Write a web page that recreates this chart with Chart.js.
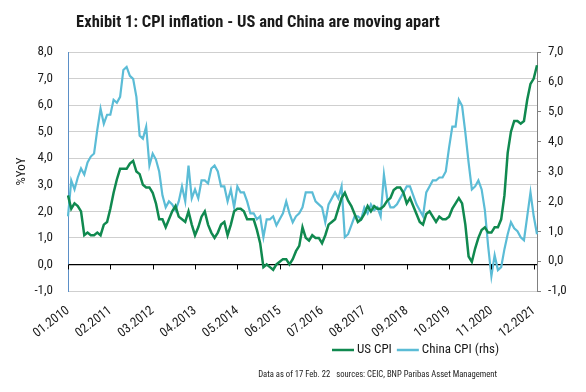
<!DOCTYPE html>
<html>
<head>
<meta charset="utf-8">
<script src="https://cdn.jsdelivr.net/npm/chart.js@4/dist/chart.umd.min.js"></script>
<style>
  html, body { margin: 0; padding: 0; background: #fff; }
  #wrap { width: 586px; height: 392px; position: relative; }
</style>
</head>
<body>
<div id="wrap"><canvas id="chart" width="586" height="392"></canvas></div>
<script>
// 数据：月度同比 CPI（2010年1月 - 2022年1月）
const firstYear = 2010;
const monthCount = 145;
const months = [];
for (let i = 0; i < monthCount; i++) {
  const m = (i % 12) + 1;
  const y = firstYear + Math.floor(i / 12);
  months.push((m < 10 ? '0' + m : '' + m) + '.' + y);
}

const usCpi = [
  2.6, 2.1, 2.3, 2.2, 2.0, 1.1, 1.2, 1.1, 1.1, 1.2, 1.1, 1.5,
  1.6, 2.1, 2.7, 3.2, 3.6, 3.6, 3.6, 3.8, 3.9, 3.5, 3.4, 3.0,
  2.9, 2.9, 2.7, 2.3, 1.7, 1.7, 1.4, 1.7, 2.0, 2.2, 1.8, 1.7,
  1.6, 2.0, 1.5, 1.1, 1.4, 1.8, 2.0, 1.5, 1.2, 1.0, 1.2, 1.5,
  1.6, 1.1, 1.5, 2.0, 2.1, 2.1, 2.0, 1.7, 1.7, 1.7, 1.3, 0.8,
  -0.1, 0.0, -0.1, -0.2, 0.0, 0.1, 0.2, 0.2, 0.0, 0.2, 0.5, 0.7,
  1.4, 1.0, 0.9, 1.1, 1.0, 1.0, 0.8, 1.1, 1.5, 1.6, 1.7, 2.1,
  2.5, 2.7, 2.4, 2.2, 1.9, 1.6, 1.7, 1.9, 2.2, 2.0, 2.2, 2.1,
  2.1, 2.2, 2.4, 2.5, 2.8, 2.9, 2.9, 2.7, 2.3, 2.5, 2.2, 1.9,
  1.6, 1.5, 1.9, 2.0, 1.8, 1.6, 1.8, 1.7, 1.7, 1.8, 2.1, 2.3,
  2.5, 2.3, 1.5, 0.3, 0.1, 0.6, 1.0, 1.3, 1.4, 1.2, 1.2, 1.4,
  1.4, 1.7, 2.6, 4.2, 5.0, 5.4, 5.4, 5.3, 5.4, 6.2, 6.8, 7.0,
  7.5
];

const chinaCpi = [
  1.5, 2.7, 2.4, 2.8, 3.1, 2.9, 3.3, 3.5, 3.6, 4.4, 5.1, 4.6,
  4.9, 4.9, 5.4, 5.3, 5.5, 6.4, 6.5, 6.2, 6.1, 5.5, 4.2, 4.1,
  4.5, 3.2, 3.6, 3.4, 3.0, 2.2, 1.8, 2.0, 1.9, 1.7, 2.0, 2.5,
  2.0, 3.2, 2.1, 2.4, 2.1, 2.7, 2.7, 2.6, 3.1, 3.2, 3.0, 2.5,
  2.5, 2.0, 2.4, 1.8, 2.5, 2.3, 2.3, 2.0, 1.6, 1.6, 1.4, 1.5,
  0.8, 1.4, 1.4, 1.5, 1.2, 1.4, 1.6, 2.0, 1.6, 1.3, 1.5, 1.6,
  1.8, 2.3, 2.3, 2.3, 2.0, 1.9, 1.8, 1.3, 1.9, 2.1, 2.3, 2.1,
  2.5, 0.8, 0.9, 1.2, 1.5, 1.5, 1.4, 1.8, 1.6, 1.9, 1.7, 1.8,
  1.5, 2.9, 2.1, 1.8, 1.8, 1.9, 2.1, 2.3, 2.5, 2.5, 2.2, 1.9,
  1.7, 1.5, 2.3, 2.5, 2.7, 2.7, 2.8, 2.8, 3.0, 3.8, 4.5, 4.5,
  5.4, 5.2, 4.3, 3.3, 2.4, 2.5, 2.7, 2.4, 1.7, 0.5, -0.5, 0.2,
  -0.3, -0.2, 0.4, 0.9, 1.3, 1.1, 1.0, 0.8, 0.7, 1.5, 2.3, 1.5,
  0.9
];

const titleText = 'Exhibit 1: CPI inflation - US and China are moving apart';
const footerText = 'Data as of 17 Feb. 22   sources: CEIC, BNP Paribas Asset Management';

const FONT = '"Roboto Condensed", "DejaVu Sans Condensed", sans-serif';
const TEXT = '#1a1a1a';
const fmt = v => v.toFixed(1).replace('.', ',');

// 标题、图例、脚注和零轴刻度
const decorPlugin = {
  id: 'decor',
  afterDraw(chart) {
    const ctx = chart.ctx;
    const x = chart.scales.x;
    const y = chart.scales.y;
    ctx.save();

    // 零轴上的刻度
    const y0 = y.getPixelForValue(0);
    ctx.strokeStyle = '#000';
    ctx.lineWidth = 1;
    x.ticks.forEach(t => {
      const px = Math.round(x.getPixelForValue(t.value)) + 0.5;
      ctx.beginPath();
      ctx.moveTo(px, y0);
      ctx.lineTo(px, y0 + 5);
      ctx.stroke();
    });

    // 标题
    ctx.fillStyle = TEXT;
    ctx.font = 'bold 16.5px ' + FONT;
    ctx.textAlign = 'center';
    ctx.textBaseline = 'middle';
    ctx.fillText(titleText, 258, 23);

    // 图例
    ctx.font = '13px ' + FONT;
    ctx.textAlign = 'left';
    let lx = 332;
    const ly = 350;
    chart.data.datasets.forEach(ds => {
      ctx.strokeStyle = ds.borderColor;
      ctx.lineWidth = 2.5;
      ctx.beginPath();
      ctx.moveTo(lx, ly);
      ctx.lineTo(lx + 22, ly);
      ctx.stroke();
      lx += 25;
      ctx.fillText(ds.label, lx, ly);
      lx += ctx.measureText(ds.label).width + 5;
    });

    // 脚注
    ctx.font = '8.6px ' + FONT;
    ctx.textAlign = 'right';
    ctx.fillText(footerText, 497, 375);
    ctx.restore();
  }
};

new Chart(document.getElementById('chart'), {
  type: 'line',
  data: {
    labels: months,
    datasets: [{
      label: 'US CPI',
      data: usCpi,
      yAxisID: 'y',
      borderColor: '#10894f',
      borderWidth: 2.5,
      pointRadius: 0,
      tension: 0
    }, {
      label: 'China CPI (rhs)',
      data: chinaCpi,
      yAxisID: 'y1',
      borderColor: '#5bbcd6',
      borderWidth: 2.2,
      pointRadius: 0,
      tension: 0
    }]
  },
  options: {
    responsive: false,
    animation: false,
    layout: { padding: { top: 52, left: 0, right: 0, bottom: 0 } },
    plugins: {
      legend: { display: false },
      title: { display: false },
      tooltip: { enabled: false }
    },
    scales: {
      x: {
        type: 'category',
        offset: false,
        grid: { display: false, drawTicks: false },
        border: { display: false },
        afterBuildTicks: s => { s.ticks = s.ticks.filter(t => t.value % 13 === 0); },
        afterFit: s => { s.height = 101; },
        ticks: {
          autoSkip: false,
          minRotation: 38,
          maxRotation: 38,
          padding: 12,
          color: TEXT,
          font: { family: FONT, size: 13 },
          callback: (v) => months[v]
        }
      },
      y: {
        position: 'left',
        min: -1,
        max: 8,
        afterFit: s => { s.width = 68; },
        title: {
          display: true,
          text: '%YoY',
          color: TEXT,
          font: { family: FONT, size: 13 },
          padding: { top: 14, bottom: 0 }
        },
        grid: {
          drawTicks: false,
          color: c => (c.tick && c.tick.value === 0) ? '#000' : '#cfcfcf',
          lineWidth: c => (c.tick && c.tick.value === 0) ? 1.3 : 1
        },
        border: { display: true, color: '#5b8fc7', width: 1 },
        ticks: {
          stepSize: 1,
          padding: 15,
          color: TEXT,
          font: { family: FONT, size: 13 },
          callback: v => fmt(v)
        }
      },
      y1: {
        position: 'right',
        min: -1,
        max: 7,
        afterFit: s => { s.width = 49; },
        grid: { drawOnChartArea: false, drawTicks: true, tickLength: 4, color: '#808080' },
        border: { display: true, color: '#808080', width: 1 },
        ticks: {
          stepSize: 1,
          padding: 7,
          color: TEXT,
          font: { family: FONT, size: 13 },
          callback: v => fmt(v)
        }
      }
    }
  },
  plugins: [decorPlugin]
});
</script>
</body>
</html>
